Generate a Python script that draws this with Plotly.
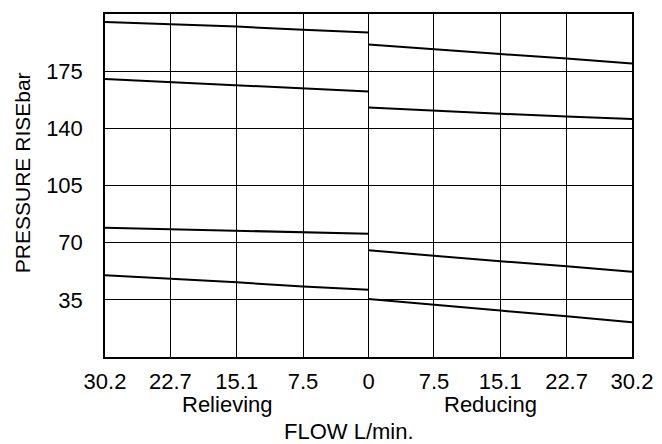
import plotly.graph_objects as go

# flow values (L/min) at the gridlines, relieving side runs right-to-left
flow_ticks = [30.2, 22.7, 15.1, 7.5, 0]
flow_right = [0, 7.5, 15.1, 22.7, 30.2]

# pressure rise (bar)
relieving_1 = [205.1, 203.7, 202.3, 200.4, 198.6]
relieving_2 = [170.2, 168.2, 166.2, 164.2, 162.5]
relieving_3 = [79.1, 78.1, 77.1, 76.5, 75.5]
relieving_4 = [50.1, 48.1, 45.7, 43.2, 41.2]

reducing_1 = [191.3, 188.3, 185.5, 182.8, 179.7]
reducing_2 = [152.8, 150.8, 148.9, 147.3, 145.7]
reducing_3 = [65.3, 61.9, 58.6, 55.6, 52.2]
reducing_4 = [35.5, 31.8, 28.4, 25.0, 21.3]

y_ticks = [35, 70, 105, 140, 175, 210]
y_labels = ["35", "70", "105", "140", "175", ""]

font = "Liberation Sans, Arial, sans-serif"

fig = go.Figure()
x_left = [-f for f in flow_ticks]
for ys in [relieving_1, relieving_2, relieving_3, relieving_4]:
    fig.add_trace(go.Scatter(x=x_left, y=ys, mode="lines",
                             line=dict(color="black", width=2), showlegend=False))
for ys in [reducing_1, reducing_2, reducing_3, reducing_4]:
    fig.add_trace(go.Scatter(x=flow_right, y=ys, mode="lines",
                             line=dict(color="black", width=2), showlegend=False))

x_vals = x_left + flow_right[1:]
x_text = [str(f) for f in flow_ticks] + [str(f) for f in flow_right[1:]]

fig.update_xaxes(range=[-30.2, 30.2], tickvals=x_vals, ticktext=x_text,
                 showgrid=True, gridcolor="black", gridwidth=1.4,
                 showline=True, linecolor="black", linewidth=1.5, mirror=True,
                 ticks="outside", ticklen=4, tickcolor="rgba(0,0,0,0)",
                 zeroline=False, tickfont=dict(size=22, color="black"))
fig.update_yaxes(range=[0, 210], tickvals=y_ticks, ticktext=y_labels,
                 showgrid=True, gridcolor="black", gridwidth=1.4,
                 showline=True, linecolor="black", linewidth=1.5, mirror=True,
                 ticks="outside", ticklen=16, tickcolor="rgba(0,0,0,0)",
                 zeroline=False, tickfont=dict(size=22, color="black"))

# y title sits a little above the middle, so it is drawn as an annotation
fig.add_annotation(text="PRESSURE RISEbar", x=0, y=0.536, xref="paper", yref="paper",
                   xanchor="center", yanchor="middle", xshift=-83, textangle=-90,
                   showarrow=False, font=dict(size=21, color="black"))
fig.add_annotation(text="Relieving", x=-16.2, y=0, xref="x", yref="paper", yanchor="middle",
                   yshift=-47, showarrow=False, font=dict(size=22, color="black"))
fig.add_annotation(text="Reducing", x=14.0, y=0, xref="x", yref="paper", yanchor="middle",
                   yshift=-47, showarrow=False, font=dict(size=22, color="black"))
fig.add_annotation(text="FLOW L/min.", x=0.463, y=0, xref="paper", yref="paper", yanchor="middle",
                   yshift=-74, showarrow=False, font=dict(size=22, color="black"))

# page body adds an 8px margin, so the figure is sized to fit the window
fig.update_layout(width=654, height=436, margin=dict(l=97, r=30, t=4, b=87),
                  plot_bgcolor="white", paper_bgcolor="white",
                  font=dict(family=font, color="black"))

fig.write_html("out.html")
